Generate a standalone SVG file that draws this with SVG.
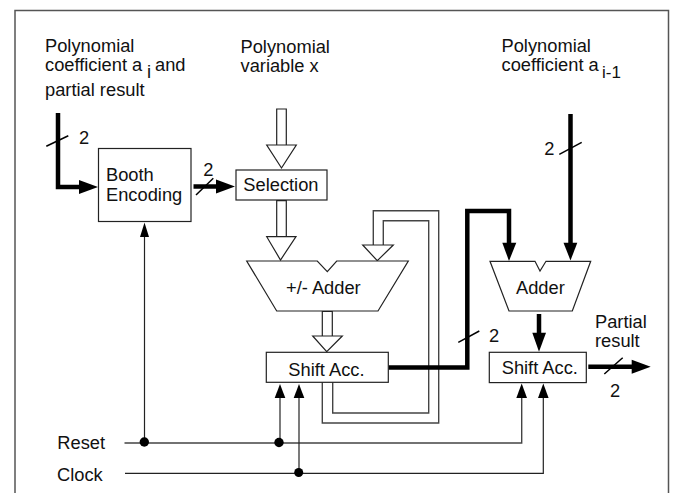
<svg xmlns="http://www.w3.org/2000/svg" width="673" height="493" viewBox="0 0 673 493">
<defs>
<style>
text{font-family:"Liberation Sans",Arial,sans-serif;font-size:18.3px;fill:#111}
.box{fill:#fff;stroke:#222;stroke-width:1.2}
.thick{fill:none;stroke:#000;stroke-width:4.5}
.thin{fill:none;stroke:#222;stroke-width:1.2}
.grey{fill:none;stroke:#444;stroke-width:1.4}
.slash{fill:none;stroke:#000;stroke-width:1.5}
.head{fill:#000}
.open{fill:#fff;stroke:#222;stroke-width:1.2}
</style>
</defs>
<rect width="673" height="493" fill="#fff"/>
<path d="M15 493V10.500H668.500V493" fill="none" stroke="#555" stroke-width="1.5"/>
<g id="connectors">
<path class="thick" d="M58 113V187H80"/><polygon class="head" points="79,180 98,187 79,194"/>
<path class="slash" d="M46.300 146.300L68.300 135.700"/>
<path class="thick" d="M193.500 186.500H217"/><polygon class="head" points="216,179.500 235,186.500 216,193.500"/>
<path class="slash" d="M196 195L213.300 178.300"/>
<path class="thin" d="M144.500 442V236"/><polygon class="head" points="140,237 144.500,222.500 149,237"/>
<path class="grey" d="M124.500 443H521.700V397"/><polygon class="head" points="516.300,398 521.700,383.500 527,398"/>
<path class="thin" d="M125 473.300H543.300V397"/><polygon class="head" points="538,398 543.300,383.500 548.600,398"/>
<path class="grey" d="M280 443V397"/><polygon class="head" points="274.700,398 280,384 285.300,398"/>
<path class="thin" d="M299 473V397"/><polygon class="head" points="293.700,398 299,384 304.300,398"/>
<circle class="head" cx="144.300" cy="442" r="4.700"/><circle class="head" cx="279" cy="442.500" r="4.700"/><circle class="head" cx="298.700" cy="472.500" r="4.500"/>
<path class="open" d="M276.700 145V109H286.300V145"/><polygon class="open" points="266.700,145 296.300,145 281.500,168"/>
<path class="open" d="M276.700 237V200.700H286.300V237"/><polygon class="open" points="266.700,236.700 296,236.700 280.500,260"/>
<path class="open" d="M322.300 336.500V311.300H332.300V336.500"/><polygon class="open" points="312.700,336 342.300,336 326.700,351.700"/>
<path class="grey" d="M373.300 245V210.700H438.700V423H322.300V382"/>
<path class="grey" d="M383.300 245V220.700H428.700V413H332.700V382"/>
<polygon class="open" points="362.700,245 393.300,245 377.300,260.700"/>
<path class="thick" d="M388.500 367.500H467.300V211H509V244"/><polygon class="head" points="502.300,242.700 516.300,242.700 509,261"/>
<path class="slash" d="M458.300 342.300L479.300 331"/>
<path class="thick" d="M570.500 114V244"/><polygon class="head" points="563.500,242.700 577.300,242.700 570.500,260.500"/>
<path class="slash" d="M559.300 154.300L581.700 142.300"/>
<path class="thick" d="M539 314V334"/><polygon class="head" points="532.300,332.700 546,332.700 539,351.700"/>
<path class="thick" d="M588.300 366.700H633"/><polygon class="head" points="631.700,359.700 650.700,366.700 631.700,373.700"/>
<path class="slash" d="M604.300 374L622.700 357.700"/>
</g>
<text x="45" y="51.500">Polynomial</text>
<text x="45" y="71">coefficient a</text>
<text x="147" y="78">i</text>
<text x="155" y="71">and</text>
<text x="45" y="96">partial result</text>
<text x="240.500" y="53">Polynomial</text>
<text x="240.500" y="72">variable x</text>
<text x="501.500" y="52">Polynomial</text>
<text x="501.500" y="71">coefficient a</text>
<text x="602" y="78.300" style="font-size:17px">i-1</text>
<text x="79" y="144.300">2</text>
<text x="203.300" y="175.700">2</text>
<text x="489" y="342">2</text>
<text x="544.300" y="155">2</text>
<text x="610" y="396.700">2</text>
<text x="595" y="327.700">Partial</text>
<text x="595" y="346.700">result</text>
<text x="57.300" y="449.300">Reset</text>
<text x="57" y="481">Clock</text>
<g id="booth"><rect class="box" x="98.500" y="148.500" width="92.500" height="73"/><text x="106" y="180.700">Booth</text><text x="106" y="200.700">Encoding</text></g>
<g id="selection"><rect class="box" x="236" y="170" width="91" height="30"/><text x="243.300" y="191">Selection</text></g>
<g id="adder-main"><polygon class="box" points="246.700,261 317.300,261 327.300,271.700 336.700,261 408.300,261 378,311 276.700,311"/><text x="286" y="294.300">+/- Adder</text></g>
<g id="shift-left"><rect class="box" x="266.300" y="352.300" width="122" height="30"/><text x="288.300" y="376">Shift Acc.</text></g>
<g id="adder-right"><polygon class="box" points="490,261.300 535,261.300 540,271 546,261.300 590.700,261.300 572.300,311 509,311"/><text x="516" y="294">Adder</text></g>
<g id="shift-right"><rect class="box" x="489.300" y="352.300" width="97" height="30.300"/><text x="501.700" y="374">Shift Acc.</text></g>
</svg>
